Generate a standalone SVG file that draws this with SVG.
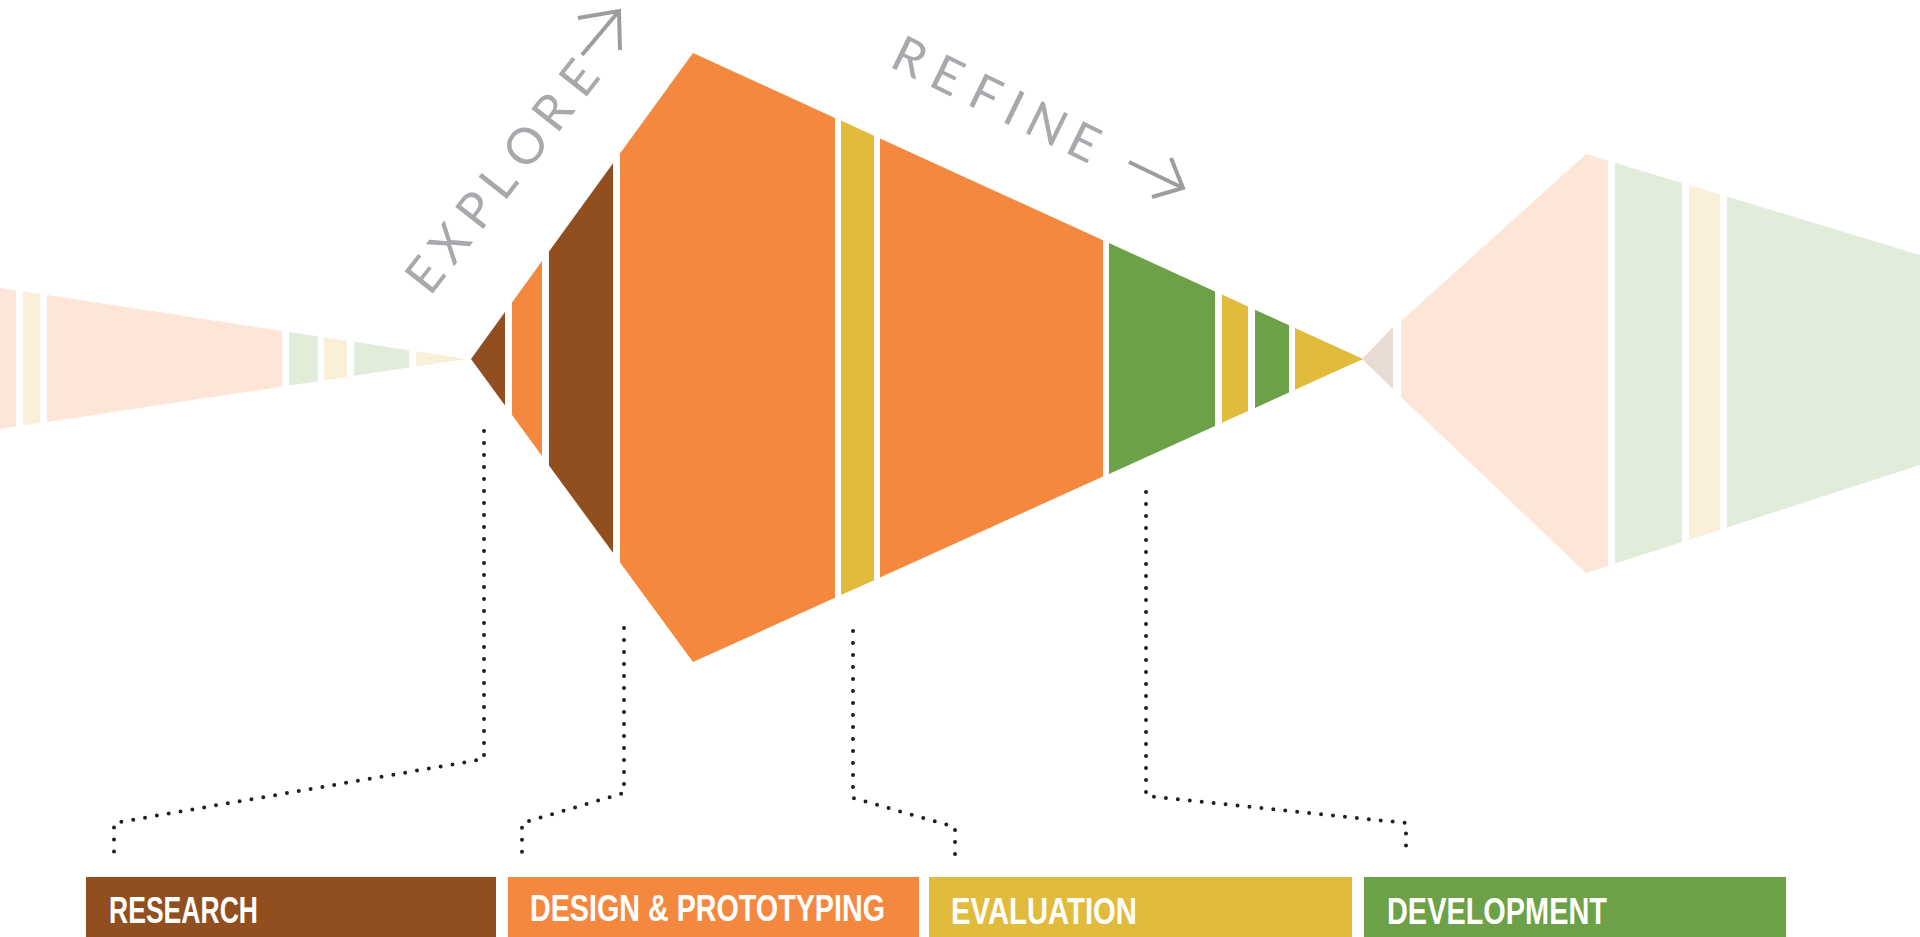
<svg xmlns="http://www.w3.org/2000/svg" width="1920" height="937" viewBox="0 0 1920 937">
<style>
.peach{fill:#FDE5D8}
.cream{fill:#FAF0DA}
.lgreen{fill:#E2ECDA}
.beige{fill:#E8DBD3}
.brown{fill:#914F20}
.orange{fill:#F4883F}
.yellow{fill:#E1BB3B}
.green{fill:#6CA147}
.word{font-family:Lato,"Open Sans","Liberation Sans",sans-serif;font-weight:400;font-size:50px;fill:#A7A9AC}
.arrow{fill:none;stroke:#9D9D9D;stroke-width:4;stroke-linecap:butt;stroke-linejoin:miter}
.dots{fill:none;stroke:#231F20;stroke-width:4;stroke-linecap:round;stroke-dasharray:0 12}
.label{font-family:"Liberation Sans",Arial,sans-serif;font-weight:bold;font-size:36px;fill:#FFFFFF}
</style>
<rect width="1920" height="937" fill="#FFFFFF"/>

<g id="past-funnel">
<polygon class="peach" points="0,288 16,290.4 16,426.6 0,429"/>
<polygon class="cream" points="23,291.5 40,294.1 40,423 23,425.5"/>
<polygon class="peach" points="47,295.1 282,330.9 282,386.7 47,422"/>
<polygon class="lgreen" points="289,331.9 318,336.3 318,381.3 289,385.6"/>
<polygon class="cream" points="324,337.2 347,340.7 347,376.9 324,380.4"/>
<polygon class="lgreen" points="354,341.8 409,350.2 409,367.6 354,375.8"/>
<polygon class="cream" points="416,351.2 467,359 416,366.6"/>
</g>

<g id="main-diamond">
<polygon class="brown" points="471,359 505,312 505,405.5"/>
<polygon class="orange" points="512,302.5 542,261.1 542,455.9 512,415"/>
<polygon class="brown" points="549,251.5 613,163.3 613,552.8 549,465.5"/>
<polygon class="orange" points="620,153.6 693,53 835,117.9 835,597.8 693,662 620,562.4"/>
<polygon class="yellow" points="841,120.6 874,135.7 874,580.2 841,595.1"/>
<polygon class="orange" points="880,138.4 1103,240.2 1103,476.6 880,577.4"/>
<polygon class="green" points="1109,243 1215,291.4 1215,425.9 1109,473.9"/>
<polygon class="yellow" points="1222,294.6 1248,306.5 1248,411 1222,422.8"/>
<polygon class="green" points="1255,309.7 1289,325.2 1289,392.5 1255,407.9"/>
<polygon class="yellow" points="1295,327.9 1363,359 1295,389.8"/>
</g>

<g id="future-funnel">
<polygon class="beige" points="1362,359 1393,327 1393,389"/>
<polygon class="peach" points="1401,321 1586,154 1608,160.6 1608,566 1586,573 1401,397"/>
<polygon class="lgreen" points="1615,162.8 1682,183 1682,542 1615,563.6"/>
<polygon class="cream" points="1689,185.1 1720,194.5 1720,529.7 1689,539.7"/>
<polygon class="lgreen" points="1727,196.6 1920,255 1920,465 1727,527.4"/>
</g>

<g id="explore">
<text class="word" transform="translate(430,297) rotate(-52)"><tspan x="0" y="0">E</tspan><tspan x="38" y="0">X</tspan><tspan x="82" y="0">P</tspan><tspan x="120" y="0">L</tspan><tspan x="158" y="0">O</tspan><tspan x="206" y="0">R</tspan><tspan x="250" y="0">E</tspan></text>
<polyline class="arrow" points="582,55 619,11"/>
<polyline class="arrow" points="578,18 619,11 620,50"/>
</g>

<g id="refine">
<text class="word" transform="translate(888,66) rotate(26)"><tspan x="0" y="0">R</tspan><tspan x="43" y="0">E</tspan><tspan x="86" y="0">F</tspan><tspan x="125" y="0">I</tspan><tspan x="149" y="0">N</tspan><tspan x="195" y="0">E</tspan></text>
<polyline class="arrow" points="1129,162 1183,188"/>
<polyline class="arrow" points="1171,158 1183,188 1152,197"/>
</g>

<g id="connectors">
<path class="dots" d="M484,431 V759 L114,823 V855"/>
<path class="dots" d="M624,628 V793 L522,823 V852"/>
<path class="dots" d="M853,631 V798 L955,827 V854"/>
<path class="dots" d="M1146,492 V796 L1406,823 V852"/>
</g>

<g id="research">
<rect class="brown" x="86" y="877" width="410" height="60"/>
<text class="label" x="109" y="923" textLength="149" lengthAdjust="spacingAndGlyphs">RESEARCH</text>
</g>
<g id="design-prototyping">
<rect class="orange" x="508" y="877" width="411" height="60"/>
<text class="label" x="530" y="921" textLength="355" lengthAdjust="spacingAndGlyphs">DESIGN &amp; PROTOTYPING</text>
</g>
<g id="evaluation">
<rect class="yellow" x="929" y="877" width="423" height="60"/>
<text class="label" x="951" y="924" textLength="186" lengthAdjust="spacingAndGlyphs">EVALUATION</text>
</g>
<g id="development">
<rect class="green" x="1364" y="877" width="422" height="60"/>
<text class="label" x="1387" y="924" textLength="220" lengthAdjust="spacingAndGlyphs">DEVELOPMENT</text>
</g>
</svg>
